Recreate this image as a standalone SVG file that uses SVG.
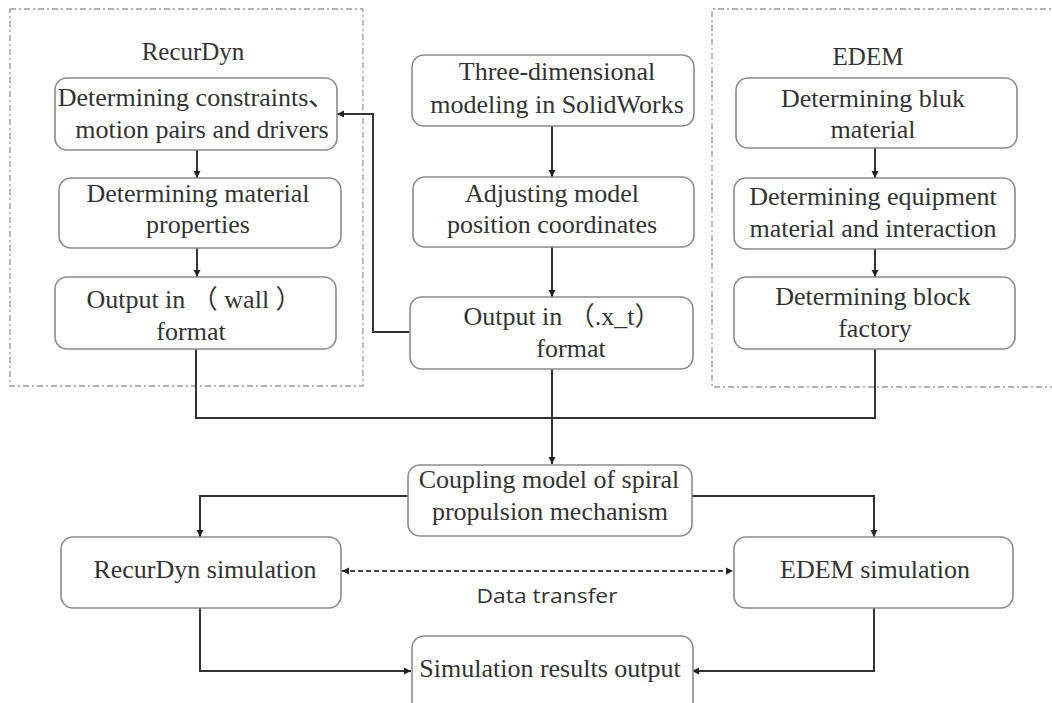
<svg xmlns="http://www.w3.org/2000/svg" width="1052" height="703" viewBox="0 0 1052 703">
<style>
.frame{fill:none;stroke:#9a9a9a;stroke-width:1.3;stroke-dasharray:6 3 2 3}
.box{fill:#fff;stroke:#8a8a8a;stroke-width:1.6}
.t{font-family:"Liberation Serif",serif;font-size:26px;fill:#333;text-anchor:middle}
.cjk{font-family:"Noto Sans CJK SC",sans-serif}
.title{font-family:"Liberation Serif",serif;font-size:25px;fill:#333;text-anchor:middle}
.lbl{font-family:"Open Sans","Liberation Sans",sans-serif;font-size:20px;fill:#333;text-anchor:middle}
.c{fill:none;stroke:#333;stroke-width:2}
.d{fill:none;stroke:#444;stroke-width:2;stroke-dasharray:5 3}
</style>
<defs>
<marker id="ah" markerWidth="8" markerHeight="8" refX="7" refY="4" orient="auto" markerUnits="userSpaceOnUse">
<path d="M0,0.5 L7,4 L0,7.5 Z" fill="#222"/>
</marker>
<marker id="as" markerWidth="8" markerHeight="8" refX="1" refY="4" orient="auto" markerUnits="userSpaceOnUse">
<path d="M8,0.5 L1,4 L8,7.5 Z" fill="#222"/>
</marker>
</defs>
<rect width="1052" height="703" fill="#fff"/>

<g id="frame-recurdyn">
<rect class="frame" x="10" y="9" width="353" height="377"/>
<text class="title" x="193" y="60">RecurDyn</text>
</g>
<g id="frame-edem">
<path class="frame" d="M1060,9 H712 V387 H1060"/>
<text class="title" x="868" y="65">EDEM</text>
</g>

<g id="connectors">
<path class="c" d="M197,150 V178" marker-end="url(#ah)"/>
<path class="c" d="M197,248 V277" marker-end="url(#ah)"/>
<path class="c" d="M410,332 H373 V114 H337" marker-end="url(#ah)"/>
<path class="c" d="M552,126 V177" marker-end="url(#ah)"/>
<path class="c" d="M552,247 V297" marker-end="url(#ah)"/>
<path class="c" d="M875,148 V178" marker-end="url(#ah)"/>
<path class="c" d="M875,249 V277" marker-end="url(#ah)"/>
<path class="c" d="M196,349 V418 H875 V349"/>
<path class="c" d="M552,369 V464" marker-end="url(#ah)"/>
<path class="c" d="M408,496 H200 V537" marker-end="url(#ah)"/>
<path class="c" d="M692,496 H874 V537" marker-end="url(#ah)"/>
<path class="d" d="M342,571 H733" marker-start="url(#as)" marker-end="url(#ah)"/>
<text class="lbl" x="547" y="603" textLength="141" lengthAdjust="spacingAndGlyphs">Data transfer</text>
<path class="c" d="M200,608 V671 H411" marker-end="url(#ah)"/>
<path class="c" d="M874,608 V671 H692" marker-end="url(#ah)"/>
</g>

<g id="n-constraints">
<rect class="box" x="55" y="78" width="282" height="72" rx="12"/>
<text class="t" x="196" y="106">Determining constraints<tspan class="cjk">、</tspan></text>
<text class="t" x="202" y="138">motion pairs and drivers</text>
</g>
<g id="n-material-props">
<rect class="box" x="59" y="178" width="282" height="70" rx="12"/>
<text class="t" x="198" y="202">Determining material</text>
<text class="t" x="198" y="233">properties</text>
</g>
<g id="n-wall">
<rect class="box" x="55" y="277" width="281" height="72" rx="12"/>
<text class="t" x="194" y="308">Output in <tspan class="cjk">（</tspan> wall <tspan class="cjk">）</tspan></text>
<text class="t" x="191" y="340">format</text>
</g>

<g id="n-solidworks">
<rect class="box" x="412" y="55" width="282" height="71" rx="12"/>
<text class="t" x="557" y="80">Three-dimensional</text>
<text class="t" x="557" y="113">modeling in SolidWorks</text>
</g>
<g id="n-adjust">
<rect class="box" x="413" y="177" width="281" height="70" rx="12"/>
<text class="t" x="552" y="202">Adjusting model</text>
<text class="t" x="552" y="233">position coordinates</text>
</g>
<g id="n-xt">
<rect class="box" x="410" y="297" width="283" height="72" rx="12"/>
<text class="t" x="562" y="325">Output in <tspan class="cjk">（</tspan>.x_t<tspan class="cjk">）</tspan></text>
<text class="t" x="571" y="357">format</text>
</g>

<g id="n-bulk">
<rect class="box" x="736" y="78" width="281" height="70" rx="12"/>
<text class="t" x="873" y="107">Determining bluk</text>
<text class="t" x="873" y="138">material</text>
</g>
<g id="n-equipment">
<rect class="box" x="734" y="178" width="281" height="71" rx="12"/>
<text class="t" x="873" y="205">Determining equipment</text>
<text class="t" x="873" y="237">material and interaction</text>
</g>
<g id="n-factory">
<rect class="box" x="734" y="277" width="281" height="72" rx="12"/>
<text class="t" x="873" y="305">Determining block</text>
<text class="t" x="875" y="337">factory</text>
</g>

<g id="n-coupling">
<rect class="box" x="408" y="465" width="284" height="71" rx="12"/>
<text class="t" x="549" y="488">Coupling model of spiral</text>
<text class="t" x="550" y="520">propulsion mechanism</text>
</g>
<g id="n-recurdyn-sim">
<rect class="box" x="61" y="537" width="280" height="71" rx="12"/>
<text class="t" x="205" y="578">RecurDyn simulation</text>
</g>
<g id="n-edem-sim">
<rect class="box" x="734" y="537" width="279" height="71" rx="12"/>
<text class="t" x="875" y="578">EDEM simulation</text>
</g>
<g id="n-results">
<rect class="box" x="412" y="636" width="281" height="80" rx="12"/>
<text class="t" x="550" y="677">Simulation results output</text>
</g>
</svg>
